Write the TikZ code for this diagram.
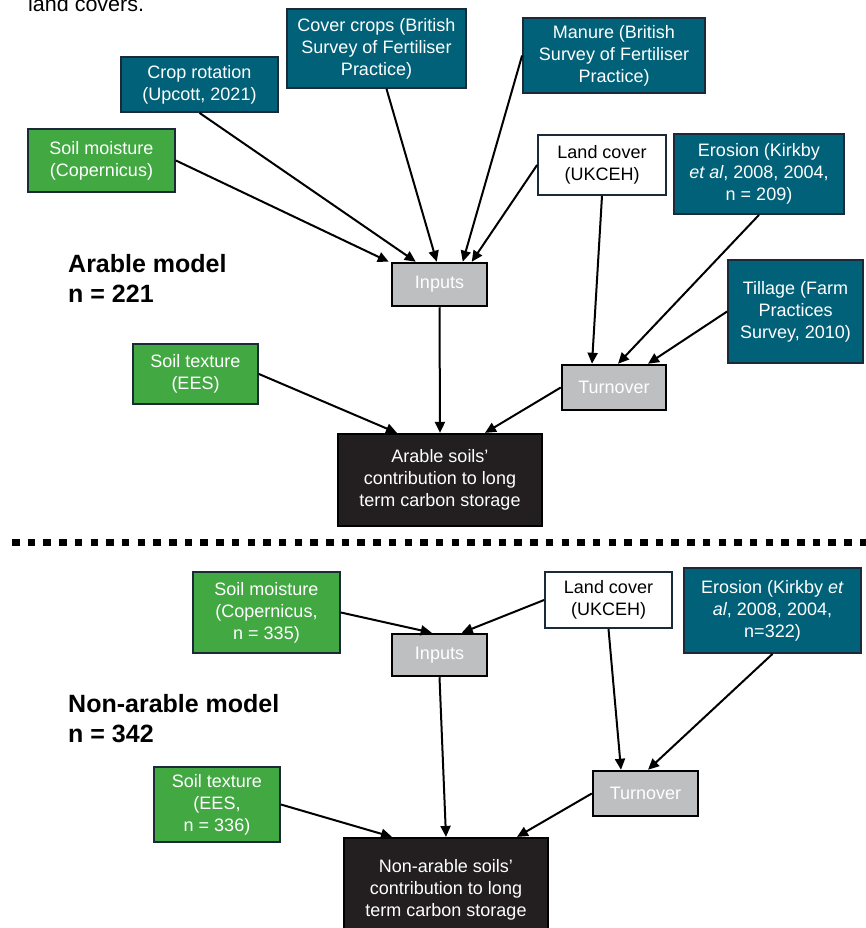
\documentclass[tikz,border=0pt]{standalone}
\usepackage{fontspec}
\setmainfont{Liberation Sans}
\usepackage{tikz}
\usetikzlibrary{arrows.meta,positioning}
\definecolor{tealsrc}{RGB}{0,97,120}
\definecolor{greensrc}{RGB}{66,168,66}
\definecolor{edgedark}{RGB}{26,42,56}
\definecolor{procgrey}{RGB}{190,191,193}
\definecolor{targetblk}{RGB}{35,31,32}

\begin{document}
\begin{tikzpicture}[x=1pt,y=-1pt,
  box/.style={rectangle,draw,align=center,inner sep=2pt,
    font=\fontsize{18}{22}\selectfont},
  src/.style={box,fill=tealsrc,draw=edgedark,line width=1.8pt,text=white},
  soil/.style={box,fill=greensrc,draw=edgedark,line width=1.8pt,text=white},
  landbox/.style={box,fill=white,draw=edgedark,line width=1.8pt,text=black},
  proc/.style={box,fill=procgrey,draw=black,line width=2.5pt,text=white},
  target/.style={box,fill=targetblk,draw=black,line width=2.2pt,text=white},
  heading/.style={anchor=base west,align=left,inner sep=0pt,
    font=\fontsize{25}{30}\selectfont\bfseries},
  link/.style={line width=2pt,-{Triangle[length=11pt,width=10pt]}},
  sepline/.style={line width=7pt,dash pattern=on 7.5pt off 8.2pt}]
\useasboundingbox (0,0) rectangle (865,928);

\node[anchor=base west,inner sep=0pt,font=\fontsize{21.5}{26}\selectfont] (intro) at (28,12) {land covers.};

% arable model
\node[heading] (arabhead) at (68,302) {Arable model\\n = 221};
\node[src,minimum width=157pt,minimum height=55pt] (crop) at (199.5,84.5) {Crop rotation\\(Upcott, 2021)};
\node[src,minimum width=179pt,minimum height=79pt] (cover) at (376.5,48.5) {Cover crops (British\\Survey of Fertiliser\\Practice)};
\node[src,minimum width=182pt,minimum height=75pt] (manure) at (614,55.5) {Manure (British\\Survey of Fertiliser\\Practice)};
\node[soil,minimum width=147pt,minimum height=63pt] (moist) at (101.5,160.5) {Soil moisture\\(Copernicus)};
\node[landbox,minimum width=128pt,minimum height=60pt] (land) at (602,165) {Land cover\\(UKCEH)};
\node[src,minimum width=170pt,minimum height=80pt] (eros) at (759,174) {Erosion (Kirkby\\\textit{et al}, 2008, 2004,\\n = 209)};
\node[proc,minimum width=95pt,minimum height=43pt] (inputs) at (439.5,284.5) {Inputs};
\node[src,minimum width=135pt,minimum height=103pt] (till) at (795.5,311.5) {Tillage (Farm\\Practices\\Survey, 2010)};
\node[proc,minimum width=104pt,minimum height=45pt] (turn) at (614,387.5) {Turnover};
\node[soil,minimum width=125pt,minimum height=60pt] (texture) at (195.5,374) {Soil texture\\(EES)};
\node[target,minimum width=204pt,minimum height=92pt] (arable) at (440,480) {Arable soils'\\contribution to long\\term carbon storage};

\draw[link] (moist.east) -- ([xshift=-2pt]inputs.north west);
\draw[link] (crop.south) -- ([xshift=25pt]inputs.north west);
\draw[link] ([xshift=10pt]cover.south) -- ([xshift=46pt]inputs.north west);
\draw[link] (manure.west) -- ([xshift=72pt]inputs.north west);
\draw[link] (land.west) -- ([xshift=81pt]inputs.north west);
\draw[link] (land.south) -- ([xshift=-22pt]turn.north);
\draw[link] (eros.south) -- ([xshift=4pt]turn.north);
\draw[link] (till.west) -- ([xshift=34pt]turn.north);
\draw[link] (inputs.south) -- (arable.north);
\draw[link] (texture.east) -- ([xshift=-43pt]arable.north);
\draw[link] (turn.west) -- ([xshift=45pt]arable.north);

% separator
\coordinate (sepL) at (12,542);
\coordinate (sepR) at (870,542);
\draw[sepline] (sepL) -- (sepR);

% non-arable model
\node[heading] (nonhead) at (68,742) {Non-arable model\\n = 342};
\node[soil,minimum width=147pt,minimum height=81pt] (moist2) at (266.5,612.5) {Soil moisture\\(Copernicus,\\n = 335)};
\node[landbox,minimum width=127pt,minimum height=56pt] (land2) at (608.5,600) {Land cover\\(UKCEH)};
\node[src,minimum width=177pt,minimum height=85pt] (eros2) at (772.5,610.5) {Erosion (Kirkby \textit{et}\\\textit{al}, 2008, 2004,\\n=322)};
\node[proc,minimum width=95pt,minimum height=42pt] (inputs2) at (439.5,655) {Inputs};
\node[proc,minimum width=105pt,minimum height=45pt] (turn2) at (645.5,793.5) {Turnover};
\node[soil,minimum width=126pt,minimum height=75pt] (texture2) at (217,804.5) {Soil texture\\(EES,\\n = 336)};
\node[target,minimum width=204pt,minimum height=104pt] (nonarable) at (446,890) {Non-arable soils'\\contribution to long\\term carbon storage};

\draw[link] (moist2.east) -- ([xshift=41pt]inputs2.north west);
\draw[link] (land2.west) -- ([xshift=71pt]inputs2.north west);
\draw[link] (inputs2.south) -- (nonarable.north);
\draw[link] (land2.south) -- ([xshift=-24.5pt]turn2.north);
\draw[link] (eros2.south) -- ([xshift=2.5pt]turn2.north);
\draw[link] (turn2.west) -- ([xshift=71pt]nonarable.north);
\draw[link] (texture2.east) -- ([xshift=-54pt]nonarable.north);
\end{tikzpicture}
\end{document}
